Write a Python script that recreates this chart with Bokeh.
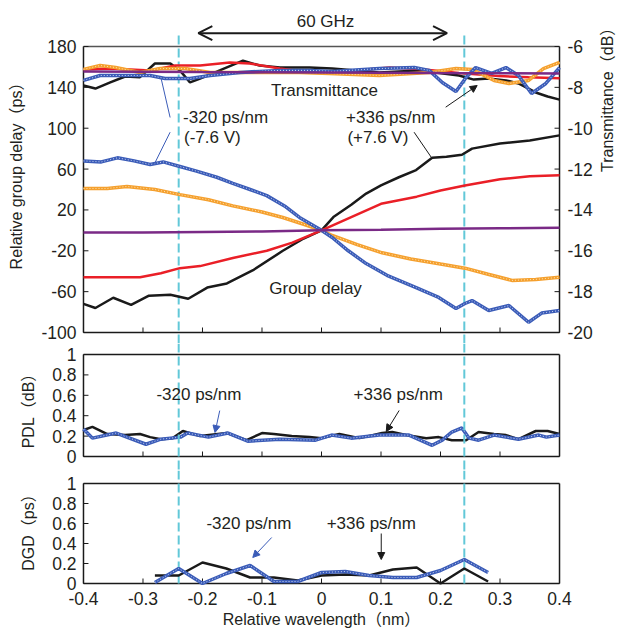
import math
from bokeh.plotting import figure
from bokeh.models import Range1d, LinearAxis, FixedTicker, Label, Arrow, NormalHead, OpenHead, Span
from bokeh.layouts import column
from bokeh.embed import file_html
from bokeh.resources import INLINE

# ---------------- data ----------------
x_ticks = [-0.4, -0.3, -0.2, -0.1, 0.0, 0.1, 0.2, 0.3, 0.4]
x_tick_labels = ["-0.4", "-0.3", "-0.2", "-0.1", "0", "0.1", "0.2", "0.3", "0.4"]
gd_ticks = [-100, -60, -20, 20, 60, 100, 140, 180]
gd_tick_labels = ["-100", "-60", "-20", "20", "60", "100", "140", "180"]
tr_ticks = [-20, -18, -16, -14, -12, -10, -8, -6]
tr_tick_labels = ["-20", "-18", "-16", "-14", "-12", "-10", "-8", "-6"]
pdl_ticks = [0, 0.2, 0.4, 0.6, 0.8, 1]
dgd_ticks = [0, 0.2, 0.4, 0.6, 0.8, 1]
ratio_tick_labels = ["0", "0.2", "0.4", "0.6", "0.8", "1"]
band_edges = [-0.24, 0.24]

# Group delay (ps)
gd_black_x = [-0.40, -0.38, -0.35, -0.32, -0.29, -0.254, -0.224, -0.192, -0.159, -0.115, -0.065, -0.03, 0.0,
              0.02, 0.05, 0.075, 0.10, 0.13, 0.159, 0.186, 0.21, 0.236, 0.253, 0.30, 0.35, 0.40]
gd_black = [-72, -76, -66, -73, -64, -63, -67, -56, -52, -39, -20, -8, 0,
            13, 25, 36, 44, 52, 59, 71, 72, 74, 80, 85, 88, 93]
gd_red_x = [-0.40, -0.35, -0.305, -0.27, -0.238, -0.204, -0.149, -0.092, -0.049, 0.0,
            0.05, 0.10, 0.16, 0.20, 0.241, 0.30, 0.35, 0.40]
gd_red = [-46, -46, -46, -42, -37, -35, -27, -20, -12, 0, 13, 26, 33, 39, 44, 50, 53, 54]
gd_orange_x = [-0.40, -0.36, -0.327, -0.28, -0.238, -0.19, -0.149, -0.10, -0.065, -0.03, 0.0,
               0.018, 0.06, 0.102, 0.15, 0.20, 0.241, 0.28, 0.32, 0.36, 0.40]
gd_orange = [41, 41, 43, 40, 35, 30, 24, 18, 12.6, 6, 0, -5, -14, -22, -28, -33, -37, -43, -49, -48, -46]
gd_blue_x = [-0.40, -0.37, -0.343, -0.315, -0.288, -0.266, -0.238, -0.21, -0.176, -0.149,
             -0.12, -0.092, -0.06, -0.037, 0.0, 0.018, 0.045, 0.075, 0.11, 0.159,
             0.197, 0.226, 0.241, 0.253, 0.281, 0.315, 0.348, 0.37, 0.40]
gd_blue = [68, 67, 71, 68, 64.5, 67, 62.5, 58, 52, 46,
           40, 34, 23, 12.6, 0, -7, -20, -32.5, -44, -56,
           -65.7, -76.5, -71.6, -68.7, -78.5, -73.6, -90, -81, -78.5]
gd_purple_x = [-0.40, -0.30, -0.20, -0.10, 0.0, 0.10, 0.20, 0.30, 0.40]
gd_purple = [-2, -2, -1.5, -1, 0, 0.5, 1.5, 2, 2.5]

# Transmittance (dB)
tr_black_x = [-0.40, -0.38, -0.355, -0.33, -0.305, -0.28, -0.254, -0.238, -0.221, -0.204, -0.171, -0.132, -0.104,
              -0.07, -0.02, 0.018, 0.097, 0.164, 0.231, 0.256, 0.281, 0.31, 0.331, 0.36, 0.38, 0.40]
tr_black = [-7.91, -8.06, -7.76, -7.47, -7.50, -6.83, -6.83, -7.17, -7.76, -7.57, -7.17, -6.69, -6.93,
            -7.03, -7.03, -7.08, -7.27, -7.17, -7.42, -7.62, -7.57, -7.66, -7.81, -8.25, -8.45, -8.60]
tr_red_x = [-0.40, -0.355, -0.288, -0.246, -0.204, -0.154, -0.121, -0.07, -0.02, 0.018, 0.114, 0.164,
            0.231, 0.298, 0.348, 0.40]
tr_red = [-7.12, -7.08, -7.17, -6.93, -6.93, -6.78, -6.83, -7.08, -7.27, -7.27, -7.03, -7.10,
          -7.30, -7.45, -7.50, -7.55]
tr_orange_x = [-0.40, -0.372, -0.346, -0.305, -0.271, -0.229, -0.187, -0.104, -0.037, 0.013, 0.097, 0.181,
               0.226, 0.253, 0.29, 0.315, 0.348, 0.373, 0.40]
tr_orange = [-7.12, -6.93, -7.03, -7.27, -7.08, -7.08, -7.27, -7.27, -7.27, -7.32, -7.42, -7.27,
             -7.08, -7.12, -7.66, -7.81, -7.66, -7.08, -6.78]
tr_blue_x = [-0.40, -0.372, -0.288, -0.263, -0.221, -0.187, -0.137, -0.07, -0.02, 0.018, 0.097, 0.156,
             0.181, 0.203, 0.226, 0.243, 0.259, 0.286, 0.31, 0.331, 0.353, 0.377, 0.40]
tr_blue = [-7.66, -7.42, -7.42, -7.57, -7.57, -7.42, -7.27, -7.17, -7.17, -7.22, -7.08, -7.03,
           -7.17, -7.76, -8.20, -7.52, -7.03, -7.32, -7.03, -7.42, -8.30, -7.81, -7.03]
tr_purple_x = [-0.40, -0.20, 0.0, 0.20, 0.40]
tr_purple = [-7.22, -7.25, -7.27, -7.30, -7.32]

# PDL (dB)
pdl_black_x = [-0.40, -0.385, -0.36, -0.33, -0.305, -0.288, -0.27, -0.25, -0.233, -0.204, -0.159, -0.126,
               -0.10, -0.08, -0.05, -0.02, 0.0, 0.03, 0.064, 0.102, 0.119, 0.142, 0.176, 0.197, 0.219,
               0.243, 0.264, 0.29, 0.31, 0.331, 0.36, 0.38, 0.40]
pdl_black = [0.26, 0.29, 0.22, 0.21, 0.22, 0.19, 0.17, 0.18, 0.25, 0.20, 0.23, 0.16,
             0.23, 0.22, 0.20, 0.19, 0.18, 0.22, 0.18, 0.23, 0.24, 0.21, 0.18, 0.19, 0.16,
             0.16, 0.24, 0.22, 0.21, 0.17, 0.25, 0.25, 0.22]
pdl_blue_x = [-0.40, -0.385, -0.345, -0.295, -0.27, -0.237, -0.225, -0.19, -0.157, -0.124, -0.07, -0.01,
              0.017, 0.05, 0.097, 0.147, 0.186, 0.203, 0.219, 0.236, 0.248, 0.264, 0.29, 0.331, 0.365,
              0.378, 0.40]
pdl_blue = [0.27, 0.18, 0.23, 0.12, 0.17, 0.19, 0.23, 0.19, 0.23, 0.15, 0.17, 0.16,
            0.21, 0.18, 0.21, 0.21, 0.11, 0.16, 0.24, 0.28, 0.18, 0.16, 0.21, 0.17, 0.21,
            0.19, 0.21]

# DGD (ps)
dgd_x = [-0.28, -0.24, -0.20, -0.16, -0.12, -0.08, -0.04, 0.0, 0.04, 0.08, 0.12, 0.16, 0.20, 0.24, 0.28]
dgd_black = [0.08, 0.08, 0.21, 0.15, 0.06, 0.06, 0.03, 0.08, 0.09, 0.08, 0.14, 0.16, 0.0, 0.15, 0.02]
dgd_blue = [0.01, 0.15, 0.0, 0.10, 0.18, 0.02, 0.02, 0.11, 0.12, 0.08, 0.06, 0.06, 0.13, 0.24, 0.11]

# ---------------- styling / layout ----------------
FONT = "Liberation Sans, Noto Sans CJK JP"
TXT = "#231f20"
BLACK = "#1a1a1a"
RED = "#ea1f27"
ORANGE = "#f5a02e"
ORANGE_L = "#fde2b0"
BLUE = "#3b5cb8"
BLUE_L = "#c9d5f2"
PURPLE = "#7a2a86"
CYAN = "#62c8d8"
TICK_FS = "17.5px"
TITLE_FS = "16px"

W = 627
BL, BR = 80, 63
BOX_W = 478
PX_PER_X = BOX_W / 0.8
PAD = 3 / PX_PER_X
xr = Range1d(-0.4 - PAD, 0.4 + PAD)
TICK_PX = 5


def yrange(lo, hi, box_px, above_px, below_px):
    u = (hi - lo) / box_px
    return Range1d(lo - below_px * u, hi + above_px * u), u


def make_fig(height, yr, bottom_border, with_x):
    p = figure(width=W, height=height, x_range=xr, y_range=yr, output_backend="svg",
               toolbar_location=None, min_border_left=BL, min_border_right=BR,
               min_border_top=0, min_border_bottom=bottom_border,
               x_axis_location="below" if with_x else None)
    p.outline_line_color = None
    p.grid.visible = False
    p.background_fill_color = "white"
    p.border_fill_color = "white"
    return p


def style_axis(ax, ticks, labels, standoff=4):
    ax.ticker = FixedTicker(ticks=ticks, minor_ticks=[])
    ax.axis_line_color = None
    ax.major_tick_line_color = None
    ax.minor_tick_line_color = None
    ax.major_tick_in = 0
    ax.major_tick_out = 0
    ax.major_label_standoff = standoff
    ax.major_label_text_font = FONT
    ax.major_label_text_font_size = TICK_FS
    ax.major_label_text_color = TXT
    ax.major_label_overrides = dict(zip(ticks, labels))


def axis_title(ax, text, standoff):
    ax.axis_label = text
    ax.axis_label_text_font = FONT
    ax.axis_label_text_font_size = TITLE_FS
    ax.axis_label_text_font_style = "normal"
    ax.axis_label_text_color = TXT
    ax.axis_label_standoff = standoff


def draw_box(p, lo, hi, yticks, uy, top_color=BLACK):
    p.segment(x0=[-0.4, 0.4, -0.4], x1=[-0.4, 0.4, 0.4], y0=[lo, lo, lo], y1=[hi, hi, lo],
              line_color=BLACK, line_width=1.5)
    p.segment(x0=[-0.4], x1=[0.4], y0=[hi], y1=[hi], line_color=top_color, line_width=1.5)
    n = len(x_ticks)
    p.segment(x0=x_ticks, x1=x_ticks, y0=[lo] * n, y1=[lo + TICK_PX * uy] * n,
              line_color=BLACK, line_width=1)
    m = len(yticks)
    p.segment(x0=[-0.4] * m, x1=[-0.4 + TICK_PX / PX_PER_X] * m, y0=yticks, y1=yticks,
              line_color=BLACK, line_width=1)


def textured(p, xs, ys, color, light, width=3.5, **kw):
    p.line(xs, ys, line_color=color, line_width=width, **kw)
    p.line(xs, ys, line_color=light, line_width=1, line_dash="1 2", **kw)


def label(p, x, y, text, size="17px", align="center"):
    p.add_layout(Label(x=x, y=y, text=text, text_font=FONT, text_font_size=size, text_align=align,
                       text_baseline="middle", text_color=TXT))


def arrow(p, x0, y0, x1, y1, color, head=True, width=1.0):
    end = NormalHead(size=7, fill_color=color, line_color=color, line_width=1) if head else None
    p.add_layout(Arrow(x_start=x0, y_start=y0, x_end=x1, y_end=y1, start=None, end=end,
                       line_color=color, line_width=width))


# ---------------- top panel: group delay + transmittance ----------------
GD_LO, GD_HI = -100, 180
TR_LO, TR_HI = -20, -6
yr1, u1 = yrange(GD_LO, GD_HI, 286, 46, 11)
p1 = make_fig(343, yr1, 0, False)
tr_range, ut = yrange(TR_LO, TR_HI, 286, 46, 11)
p1.extra_y_ranges = {"tr": tr_range}
style_axis(p1.yaxis[0], gd_ticks, gd_tick_labels, standoff=4)
axis_title(p1.yaxis[0], "Relative group delay（ps）", 13)
rax = LinearAxis(y_range_name="tr")
style_axis(rax, tr_ticks, tr_tick_labels, standoff=5)
axis_title(rax, "Transmittance（dB）", 12)
rax.axis_label_orientation = math.pi / 2
p1.add_layout(rax, "right")

draw_box(p1, GD_LO, GD_HI, gd_ticks, u1, top_color="#555555")
mt = len(tr_ticks)
p1.segment(x0=[0.4] * mt, x1=[0.4 - TICK_PX / PX_PER_X] * mt, y0=tr_ticks, y1=tr_ticks,
           line_color=BLACK, line_width=1, y_range_name="tr")

arrow_y = GD_HI + 13.3 * u1
for xe in band_edges:
    p1.segment(x0=[xe], x1=[xe], y0=[yr1.start], y1=[arrow_y], line_color=CYAN, line_width=2,
               line_dash="9 4")

# transmittance curves
p1.line(tr_black_x, tr_black, line_color=BLACK, line_width=2.5, y_range_name="tr")
p1.line(tr_red_x, tr_red, line_color=RED, line_width=2.5, y_range_name="tr")
textured(p1, tr_orange_x, tr_orange, ORANGE, ORANGE_L, y_range_name="tr")
textured(p1, tr_blue_x, tr_blue, BLUE, BLUE_L, y_range_name="tr")
p1.line(tr_purple_x, tr_purple, line_color=PURPLE, line_width=2.5, y_range_name="tr")

# group delay curves
p1.line(gd_black_x, gd_black, line_color=BLACK, line_width=2.5)
p1.line(gd_red_x, gd_red, line_color=RED, line_width=2.5)
textured(p1, gd_orange_x, gd_orange, ORANGE, ORANGE_L)
textured(p1, gd_blue_x, gd_blue, BLUE, BLUE_L)
p1.line(gd_purple_x, gd_purple, line_color=PURPLE, line_width=2.5)

# annotations
p1.add_layout(Arrow(x_start=-0.207, y_start=arrow_y, x_end=0.211, y_end=arrow_y,
                    start=OpenHead(size=14, line_width=2, line_color=BLACK),
                    end=OpenHead(size=14, line_width=2, line_color=BLACK),
                    line_color=BLACK, line_width=2))
label(p1, 0.0067, GD_HI + 25 * u1, "60 GHz")
label(p1, 0.005, 136.9, "Transmittance")
label(p1, -0.01, -56.9, "Group delay")
label(p1, -0.2326, 110.5, "-320 ps/nm", align="left")
label(p1, -0.231, 90.9, "(-7.6 V)", align="left")
arrow(p1, -0.2695, 148.7, -0.2544, 110.5, BLUE, head=False)
arrow(p1, -0.2544, 96.1, -0.2807, 65.2, BLUE, head=False)
label(p1, 0.0413, 110.8, "+336 ps/nm", align="left")
label(p1, 0.0435, 91.2, "(+7.6 V)", align="left")
arrow(p1, 0.2087, 120.6, 0.2616, 141.8, BLACK, head=True)
arrow(p1, 0.1556, 96.1, 0.1863, 70.0, BLACK, head=False)

# ---------------- middle panel: PDL ----------------
yr2, u2 = yrange(0, 1, 102, 11, 14)
p2 = make_fig(127, yr2, 0, False)
style_axis(p2.yaxis[0], pdl_ticks, ratio_tick_labels, standoff=4)
axis_title(p2.yaxis[0], "PDL（dB）", 12)
draw_box(p2, 0, 1, pdl_ticks, u2)
for xe in band_edges:
    p2.add_layout(Span(location=xe, dimension="height", line_color=CYAN, line_width=2, line_dash="9 4"))
p2.line(pdl_black_x, pdl_black, line_color=BLACK, line_width=2.5)
textured(p2, pdl_blue_x, pdl_blue, BLUE, BLUE_L)
label(p2, -0.206, 0.608, "-320 ps/nm")
arrow(p2, -0.171, 0.45, -0.179, 0.235, BLUE)
label(p2, 0.129, 0.608, "+336 ps/nm")
arrow(p2, 0.1305, 0.451, 0.1088, 0.245, BLACK)

# ---------------- bottom panel: DGD ----------------
yr3, u3 = yrange(0, 1, 100, 13, 3)
p3 = make_fig(165, yr3, 49, True)
style_axis(p3.yaxis[0], dgd_ticks, ratio_tick_labels, standoff=4)
axis_title(p3.yaxis[0], "DGD（ps）", 12)
style_axis(p3.xaxis[0], x_ticks, x_tick_labels, standoff=5)
axis_title(p3.xaxis[0], "Relative wavelength（nm）", 3)
draw_box(p3, 0, 1, dgd_ticks, u3)
for xe in band_edges:
    p3.segment(x0=[xe], x1=[xe], y0=[0], y1=[yr3.end], line_color=CYAN, line_width=2, line_dash="9 4")
p3.line(dgd_x, dgd_black, line_color=BLACK, line_width=2.5)
textured(p3, dgd_x, dgd_blue, BLUE, BLUE_L)
label(p3, -0.122, 0.6, "-320 ps/nm")
arrow(p3, -0.0837, 0.46, -0.1155, 0.26, BLUE)
label(p3, 0.0837, 0.6, "+336 ps/nm")
arrow(p3, 0.1004, 0.5, 0.1004, 0.24, BLACK)

layout = column(p1, p2, p3, spacing=0)
open("out.html", "w").write(file_html(layout, INLINE))
